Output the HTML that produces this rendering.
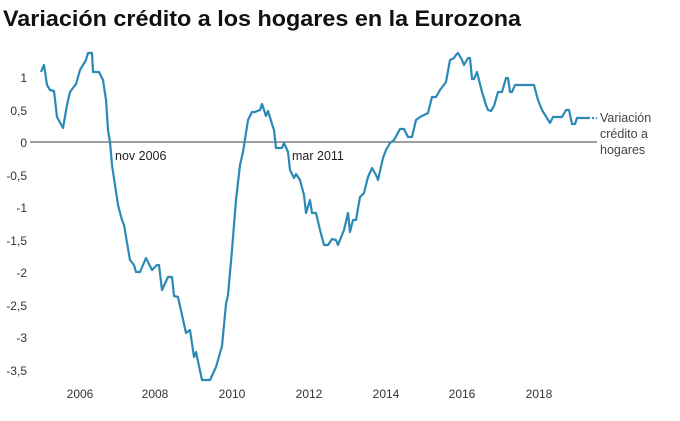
<!DOCTYPE html>
<html><head><meta charset="utf-8"><style>body{margin:0;background:#fff}svg{display:block}</style></head><body>
<svg width="680" height="421" xmlns="http://www.w3.org/2000/svg" font-family="Liberation Sans, sans-serif">
<text x="3" y="26" font-size="22" font-weight="bold" fill="#111" textLength="518" lengthAdjust="spacingAndGlyphs">Variación crédito a los hogares en la Eurozona</text>
<g font-size="12" fill="#333" text-anchor="end">
<text x="27" y="82">1</text><text x="27" y="115">0,5</text><text x="27" y="147">0</text><text x="27" y="180">-0,5</text><text x="27" y="212">-1</text><text x="27" y="245">-1,5</text><text x="27" y="277">-2</text><text x="27" y="310">-2,5</text><text x="27" y="342">-3</text><text x="27" y="375">-3,5</text>
</g>
<g font-size="12" fill="#333" text-anchor="middle">
<text x="80" y="398">2006</text><text x="155" y="398">2008</text><text x="232" y="398">2010</text><text x="309" y="398">2012</text><text x="386" y="398">2014</text><text x="462" y="398">2016</text><text x="539" y="398">2018</text>
</g>
<line x1="30" y1="142" x2="597" y2="142" stroke="#666" stroke-width="1.2"/>
<text x="115" y="160" font-size="12.5" fill="#222">nov 2006</text>
<text x="292" y="160" font-size="12.5" fill="#222">mar 2011</text>
<polyline fill="none" stroke="#2a8ab5" stroke-width="2.2" stroke-linejoin="round" points="41,72 44,65 47,85 50,90 54,91 57,117 63,128 67,105 70,92 76,84 80,70 86,60 88,53 92,53 93,72 99,72 103,80 106,100 108,130 110,142 112,165 118,205 122,220 124,225 130,260 134,265 136,272 140,272 146,258 152,270 157,265 159,265 162,290 168,277 172,277 174,296 178,297 186,333 190,330 194,357 196,352 202,380 210,380 216,367 222,346 226,304 228,295 232,250 236,200 240,165 243,152 248,120 252,112 255,112 260,110 262,104 266,116 268,111 272,124 274,130 276,148 282,148 284,143 288,152 290,170 294,178 296,174 300,180 304,195 306,213 310,200 312,213 316,213 320,230 324,245 328,245 332,239 336,240 338,245 344,230 348,213 350,232 353,220 356,220 360,197 364,193 368,177 372,168 376,175 378,180 383,158 386,150 390,143 394,140 400,129 404,129 408,137 412,137 416,120 420,117 424,115 428,113 432,97 436,97 440,90 446,82 450,60 454,58 456,55 458,53 462,60 464,65 468,58 470,58 472,79 474,79 477,72 480,84 482,92 486,105 488,110 491,111 494,106 498,92 502,92 506,78 508,78 510,92 512,92 515,85 534,85 538,100 542,110 550,123 553,117 562,117 566,110 569,110 572,124 575,124 577,118 590,118"/>
<line x1="592" y1="118" x2="597" y2="118" stroke="#2a8ab5" stroke-width="2" stroke-dasharray="2,2"/>
<g font-size="12.5" fill="#444"><text x="600" y="122">Variación</text><text x="600" y="138">crédito a</text><text x="600" y="154">hogares</text></g>
</svg>
</body></html>
